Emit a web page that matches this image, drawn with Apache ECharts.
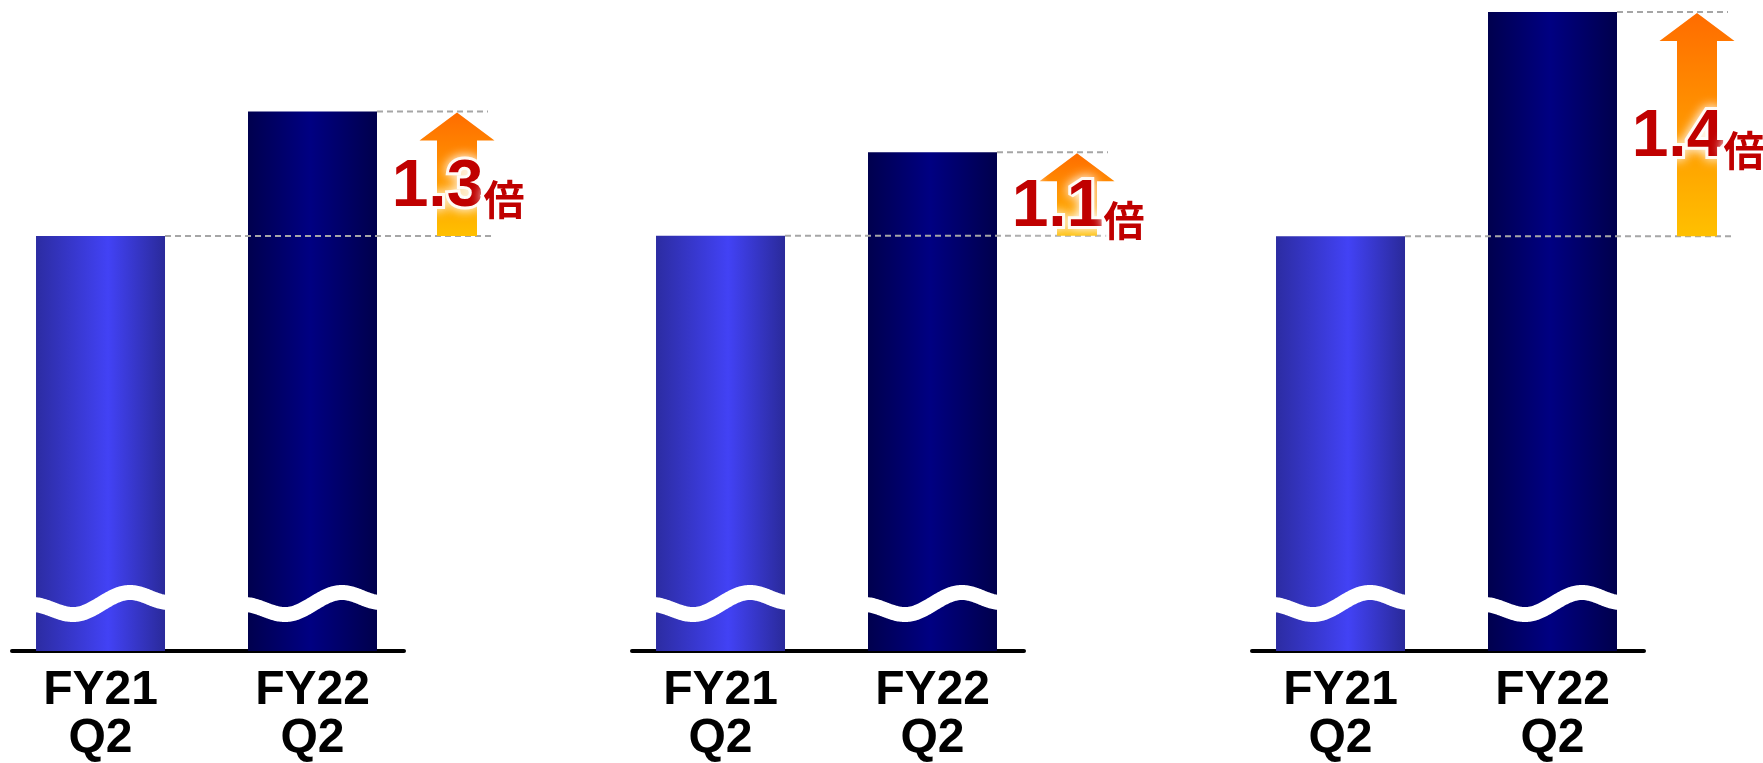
<!DOCTYPE html>
<html>
<head>
<meta charset="utf-8">
<script src="https://cdn.jsdelivr.net/npm/echarts@6/dist/echarts.min.js"></script>
<style>
  html, body { margin: 0; padding: 0; background: #fff; }
  #chart { width: 1763px; height: 763px; }
</style>
</head>
<body>
<div id="chart"></div>
<script>
// Period labels under each bar
const categories = ['FY21\nQ2', 'FY22\nQ2'];
// Indexed values per panel (FY21 = 100)
const fy21Values = [100, 100, 100];
const fy22Values = [130, 110, 140];

// Broken value axes: each panel shows only the upper part of its scale
const yRanges = [[0, 154], [50.3, 126.8], [26, 140]];

const BAR_W = 129;
const PANEL_STEP = 620;
const X_RANGE = [-0.4175, 1.4316];

const chart = echarts.init(document.getElementById('chart'), null, { renderer: 'canvas' });

const gradFY21 = new echarts.graphic.LinearGradient(0, 0, 1, 0, [
  { offset: 0, color: '#2c2ca2' },
  { offset: 0.56, color: '#4242f5' },
  { offset: 1, color: '#2a2a9a' }
]);
const gradFY22 = new echarts.graphic.LinearGradient(0, 0, 1, 0, [
  { offset: 0, color: '#00004e' },
  { offset: 0.48, color: '#000082' },
  { offset: 1, color: '#00004c' }
]);

// vertical offset of the break band (relative to the baseline) along the bar width
const waveKeys = [[-4, -46.5], [37, -36.5], [94, -58.5], [133, -48.5]];
function waveOffset(t) {
  for (let k = 0; k < waveKeys.length - 1; k++) {
    const a = waveKeys[k], b = waveKeys[k + 1];
    if (t <= b[0] || k === waveKeys.length - 2) {
      const u = Math.min(1, Math.max(0, (t - a[0]) / (b[0] - a[0])));
      const s = (1 - Math.cos(Math.PI * u)) / 2;
      return a[1] + (b[1] - a[1]) * s;
    }
  }
  return 0;
}

function renderBreak(params, api) {
  const cx = api.coord([api.value(0), api.value(1)])[0];
  const cs = params.coordSys;
  const base = cs.y + cs.height;
  const left = cx - BAR_W / 2;
  const pts = [];
  for (let t = -4; t <= BAR_W + 4; t += 1) {
    pts.push([left + t, base + waveOffset(t)]);
  }
  return {
    type: 'polyline',
    shape: { points: pts },
    style: { stroke: '#ffffff', lineWidth: 15, fill: null }
  };
}

const labelGlow = {
  fill: '#c00000',
  stroke: 'rgba(255,255,255,0.9)',
  lineWidth: 6,
  textShadowColor: '#ffffff',
  textShadowBlur: 12
};

function renderGrowth(params, api) {
  const v21 = api.value(1), v22 = api.value(2);
  const p21 = api.coord([0, v21]);
  const p22 = api.coord([1, v22]);
  const half = BAR_W / 2;
  const ax = p22[0] + half + 80;
  const tipY = p22[1] + 1;
  const baseY = p21[1];
  const headY = tipY + 28;
  const ratio = (v22 / v21).toFixed(1);
  const dash = { stroke: '#a6a6a6', lineWidth: 2, lineDash: [6, 4] };
  return {
    type: 'group',
    children: [
      { type: 'line', shape: { x1: p21[0] + half, y1: p21[1], x2: ax + 35, y2: p21[1] }, style: dash },
      { type: 'line', shape: { x1: p22[0] + half, y1: p22[1], x2: ax + 31, y2: p22[1] }, style: dash },
      {
        type: 'polygon',
        shape: {
          points: [
            [ax - 20, baseY], [ax - 20, headY], [ax - 37.5, headY], [ax, tipY],
            [ax + 37.5, headY], [ax + 20, headY], [ax + 20, baseY]
          ]
        },
        style: {
          fill: new echarts.graphic.LinearGradient(0, 0, 0, 1, [
            { offset: 0, color: '#ff6c00' },
            { offset: 1, color: '#ffc000' }
          ])
        }
      },
      {
        type: 'text',
        x: ax + 1,
        y: (tipY + baseY) / 2 + 11,
        style: Object.assign({
          text: '{a|' + ratio + '}{b|倍}',
          align: 'center',
          verticalAlign: 'middle',
          rich: {
            a: Object.assign({
              fontSize: 66, fontWeight: 'bold', fontFamily: 'Liberation Sans, Arial, sans-serif',
              lineHeight: 70, verticalAlign: 'bottom'
            }, labelGlow),
            b: Object.assign({
              fontSize: 41, fontWeight: 'bold', fontFamily: 'Noto Sans CJK JP, sans-serif',
              lineHeight: 58, verticalAlign: 'bottom'
            }, labelGlow)
          }
        }, labelGlow)
      }
    ]
  };
}

const grids = [], xAxes = [], yAxes = [], series = [];
for (let i = 0; i < 3; i++) {
  grids.push({ left: 12 + PANEL_STEP * i, width: 392, top: 12, bottom: 110.5 });
  xAxes.push({
    gridIndex: i,
    type: 'value',
    min: X_RANGE[0],
    max: X_RANGE[1],
    axisLine: { show: true, onZero: false, lineStyle: { color: '#000', width: 4 } },
    axisTick: { show: false },
    splitLine: { show: false },
    axisLabel: {
      customValues: [0, 1],
      formatter: (v) => categories[Math.round(v)] || '',
      margin: 16,
      color: '#000',
      fontSize: 48,
      lineHeight: 48,
      fontWeight: 'bold',
      fontFamily: 'Liberation Sans, Arial, sans-serif'
    }
  });
  yAxes.push({ gridIndex: i, type: 'value', min: yRanges[i][0], max: yRanges[i][1], show: false });

  series.push({
    type: 'bar',
    xAxisIndex: i,
    yAxisIndex: i,
    barWidth: BAR_W,
    data: [
      { value: [0, fy21Values[i]], itemStyle: { color: gradFY21 } },
      { value: [1, fy22Values[i]], itemStyle: { color: gradFY22 } }
    ],
    z: 2
  });
  series.push({
    type: 'custom',
    xAxisIndex: i,
    yAxisIndex: i,
    renderItem: renderBreak,
    data: [[0, fy21Values[i]], [1, fy22Values[i]]],
    encode: { x: 0, y: 1 },
    silent: true,
    z: 3
  });
  series.push({
    type: 'custom',
    xAxisIndex: i,
    yAxisIndex: i,
    renderItem: renderGrowth,
    data: [[1, fy21Values[i], fy22Values[i]]],
    encode: { x: 0, y: [1, 2] },
    silent: true,
    z: 4
  });
}

chart.setOption({
  animation: false,
  backgroundColor: '#ffffff',
  grid: grids,
  xAxis: xAxes,
  yAxis: yAxes,
  series: series
});
</script>
</body>
</html>
